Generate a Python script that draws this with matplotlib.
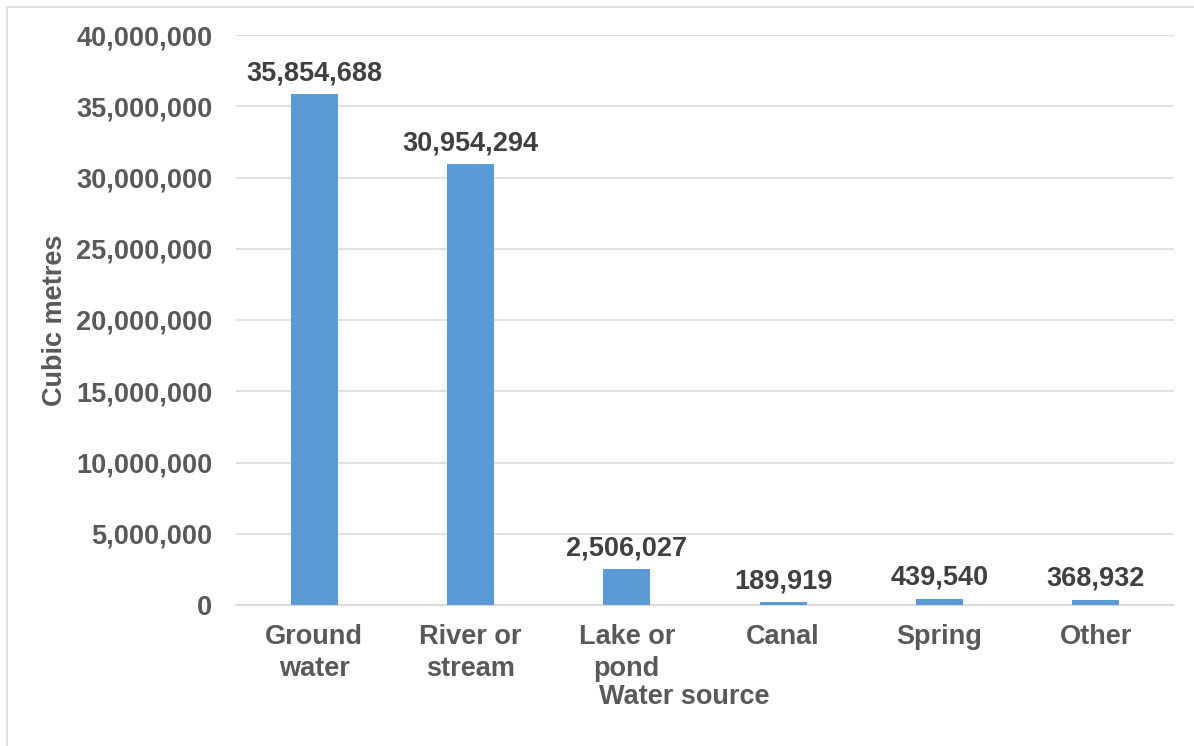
#!/usr/bin/env python3
"""Water source volumes bar chart"""

import matplotlib
matplotlib.use("Agg")
import matplotlib.pyplot as plt
from matplotlib.patches import Rectangle
from matplotlib.ticker import FuncFormatter

categories = ["Ground\nwater", "River or\nstream", "Lake or\npond",
              "Canal", "Spring", "Other"]
volumes = [35854688, 30954294, 2506027, 189919, 439540, 368932]
y_ticks = [0, 5000000, 10000000, 15000000, 20000000,
           25000000, 30000000, 35000000, 40000000]

plt.rcParams['font.family'] = ['Liberation Sans', 'DejaVu Sans']
plt.rcParams['font.weight'] = 'bold'

W, H = 1194, 746
FS = 19.5
fig = plt.figure(figsize=(W / 100, H / 100), dpi=100)
ax = fig.add_axes([236 / W, 1 - 605 / H, 938 / W, 570 / H])

x = range(len(categories))
ax.bar(x, volumes, width=0.30, color='#5B9BD5', zorder=3)

for i, v in enumerate(volumes):
    ax.annotate(f"{v:,}", (i, v), xytext=(0, 10), textcoords='offset points',
                ha='center', va='baseline', fontsize=FS, fontweight='bold',
                color='#404040')

ax.set_xlim(-0.5, len(categories) - 0.5)
ax.set_ylim(0, 40000000)
ax.set_yticks(y_ticks)
ax.yaxis.set_major_formatter(FuncFormatter(lambda v, p: f"{int(v):,}"))
ax.set_xticks(list(x))
ax.set_xticklabels(categories, linespacing=1.3)

ax.tick_params(axis='y', length=0, pad=17, labelsize=FS, labelcolor='#595959')
ax.tick_params(axis='x', length=0, pad=14, labelsize=FS, labelcolor='#595959')

ax.grid(axis='y', color='#D9D9D9', linewidth=1.1, zorder=0)
for side in ['top', 'right', 'left']:
    ax.spines[side].set_visible(False)
ax.spines['bottom'].set_color('#D9D9D9')
ax.spines['bottom'].set_linewidth(1.3)

fig.text(684 / W, 1 - 697 / H, "Water source", ha='center', va='center',
         fontsize=FS, fontweight='bold', color='#595959')
fig.text(55 / W, 1 - 320 / H, "Cubic metres", ha='center', va='center',
         rotation=90, fontsize=FS, fontweight='bold', color='#595959')

# outer chart border (cut off at right and bottom)
fig.patches.append(Rectangle((7 / W, -0.1), 1.2, 1 - 7 / H + 0.1,
                             transform=fig.transFigure, fill=False,
                             edgecolor='#D9D9D9', linewidth=1.2))

fig.savefig("out.png", dpi=100, facecolor='white')
